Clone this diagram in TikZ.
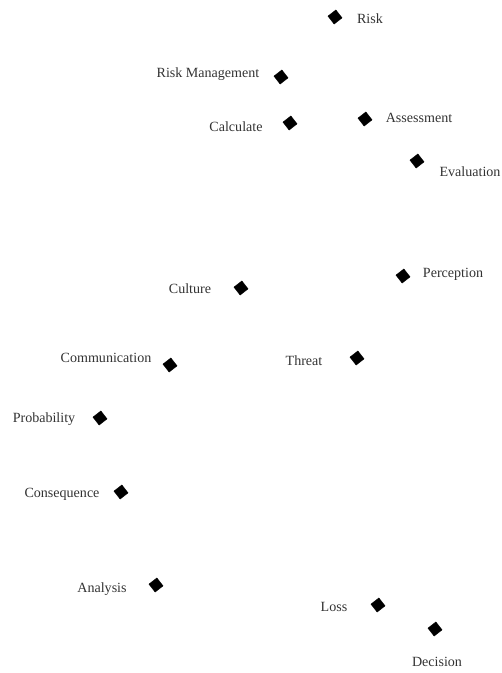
\documentclass[tikz,border=0pt]{standalone}
\usepackage{fontspec}
\setmainfont{Liberation Serif}
\tikzset{
  itemmark/.style={draw=black, fill=black, rectangle, rotate=38, minimum size=0.3cm, inner sep=0pt},
  term/.style={text=black!80, font=\fontsize{12}{14}\selectfont, inner sep=0pt}
}
\begin{document}
\begin{tikzpicture}[x=0.03cm, y=-0.03cm]
\useasboundingbox (0,0) rectangle (501,673);
\node[itemmark] (risk) at (335,17) {};
\node[itemmark] (riskman) at (281,77) {};
\node[itemmark] (calc) at (290,123) {};
\node[itemmark] (assess) at (365,119) {};
\node[itemmark] (eval) at (417,161) {};
\node[itemmark] (percep) at (403,276) {};
\node[itemmark] (culture) at (241,288) {};
\node[itemmark] (comm) at (170,365) {};
\node[itemmark] (threat) at (357,358) {};
\node[itemmark] (prob) at (100,418) {};
\node[itemmark] (conseq) at (121,492) {};
\node[itemmark] (analysis) at (156,585) {};
\node[itemmark] (loss) at (378,605) {};
\node[itemmark] (decision) at (435,629) {};
\node[term] (risk-l) at (370,19) {Risk};
\node[term] (riskman-l) at (208,74) {Risk Management};
\node[term] (calc-l) at (236,127) {Calculate};
\node[term] (assess-l) at (419,118) {Assessment};
\node[term] (eval-l) at (470,172) {Evaluation};
\node[term] (percep-l) at (453,274) {Perception};
\node[term] (culture-l) at (190,289) {Culture};
\node[term] (comm-l) at (106,358) {Communication};
\node[term] (threat-l) at (304,361) {Threat};
\node[term] (prob-l) at (44,419) {Probability};
\node[term] (conseq-l) at (62,494) {Consequence};
\node[term] (analysis-l) at (102,589) {Analysis};
\node[term] (loss-l) at (334,607) {Loss};
\node[term] (decision-l) at (437,662) {Decision};
\end{tikzpicture}
\end{document}
